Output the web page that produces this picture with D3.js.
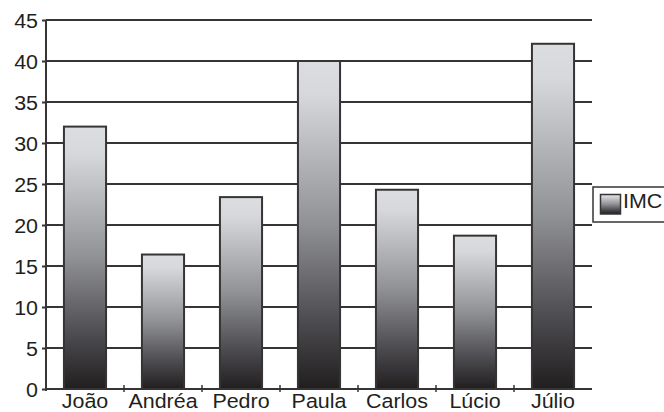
<!DOCTYPE html>
<html>
<head>
<meta charset="utf-8">
<script src="https://cdn.jsdelivr.net/npm/d3@7"></script>
<style>
  html, body { margin: 0; padding: 0; background: #fff; }
  svg { display: block; }
  text { font-family: "Liberation Sans", Arial, sans-serif; fill: #231f20; }
</style>
</head>
<body>
<svg id="chart" width="664" height="412"></svg>
<script>
const categories = ["João", "Andréa", "Pedro", "Paula", "Carlos", "Lúcio", "Júlio"];
const imcValues = [32, 16.4, 23.4, 40, 24.3, 18.7, 42.1];
const yTicks = [0, 5, 10, 15, 20, 25, 30, 35, 40, 45];
const seriesName = "IMC";

const svg = d3.select("#chart");
const plot = { left: 46, top: 20, right: 592, bottom: 389 };
const lineColor = "#363435";
const fontSize = 19.5;
const stretch = 1.1;

const defs = svg.append("defs");
const grad = defs.append("linearGradient")
  .attr("id", "barGrad").attr("x1", 0).attr("y1", 0).attr("x2", 0).attr("y2", 1);
[[0, "#dcdde0"], [0.1, "#d7d8db"], [0.5, "#909195"], [0.8, "#4b4a4e"], [1, "#211e1f"]]
  .forEach(([o, c]) => grad.append("stop").attr("offset", o).attr("stop-color", c));

const x = d3.scaleBand()
  .domain(categories)
  .range([plot.left, plot.right])
  .paddingInner(0.46)
  .paddingOuter(0.23);

const y = d3.scaleLinear().domain([0, 45]).range([plot.bottom, plot.top]);

// gridlines
svg.append("g").selectAll("line")
  .data(yTicks.filter(d => d > 0))
  .join("line")
  .attr("x1", plot.left).attr("x2", plot.right)
  .attr("y1", d => y(d)).attr("y2", d => y(d))
  .attr("stroke", lineColor).attr("stroke-width", 2);

// bars
svg.append("g").selectAll("rect")
  .data(categories.map((c, i) => ({ c, v: imcValues[i] })))
  .join("rect")
  .attr("x", d => x(d.c))
  .attr("y", d => y(d.v))
  .attr("width", x.bandwidth())
  .attr("height", d => y(0) - y(d.v))
  .attr("fill", "url(#barGrad)")
  .attr("stroke", lineColor)
  .attr("stroke-width", 2);

// y axis
const yAxis = svg.append("g")
  .attr("transform", `translate(${plot.left},0)`)
  .call(d3.axisLeft(y).tickValues(yTicks).tickSize(4).tickPadding(4).tickFormat(d3.format("d")));
yAxis.select(".domain").attr("stroke", lineColor).attr("stroke-width", 2)
  .attr("d", `M0,${plot.top}V${plot.bottom + 2}`);
yAxis.selectAll(".tick line").attr("stroke", lineColor).attr("stroke-width", 2);
yAxis.selectAll(".tick text")
  .attr("font-size", fontSize)
  .attr("fill", "#231f20")
  .attr("dy", "0.4em")
  .attr("transform", `scale(${stretch},1)`)
  .attr("x", -8 / stretch);

// x axis line
svg.append("line")
  .attr("x1", plot.left - 1).attr("x2", plot.right)
  .attr("y1", plot.bottom).attr("y2", plot.bottom)
  .attr("stroke", lineColor).attr("stroke-width", 2);

// x axis boundary ticks
const boundaries = categories.slice(1).map(c => x(c) - x.step() * x.paddingInner() / 2);
svg.append("g").selectAll("line")
  .data(boundaries)
  .join("line")
  .attr("x1", d => d).attr("x2", d => d)
  .attr("y1", plot.bottom - 4).attr("y2", plot.bottom + 3)
  .attr("stroke", lineColor).attr("stroke-width", 1.5);

// x labels
svg.append("g").selectAll("text")
  .data(categories)
  .join("text")
  .attr("transform", d => `translate(${x(d) + x.bandwidth() / 2},408) scale(${stretch},1)`)
  .attr("text-anchor", "middle")
  .attr("font-size", fontSize)
  .text(d => d);

// legend
const lg = svg.append("g");
lg.append("rect")
  .attr("x", 593).attr("y", 187).attr("width", 75).attr("height", 35)
  .attr("fill", "#fff").attr("stroke", lineColor).attr("stroke-width", 1.5);
lg.append("rect")
  .attr("x", 600.5).attr("y", 194.5).attr("width", 20).attr("height", 19.5)
  .attr("fill", "url(#barGrad)").attr("stroke", lineColor).attr("stroke-width", 1.5);
lg.append("text")
  .attr("transform", `translate(623,208) scale(${stretch},1)`)
  .attr("font-size", fontSize)
  .text(seriesName);
</script>
</body>
</html>
